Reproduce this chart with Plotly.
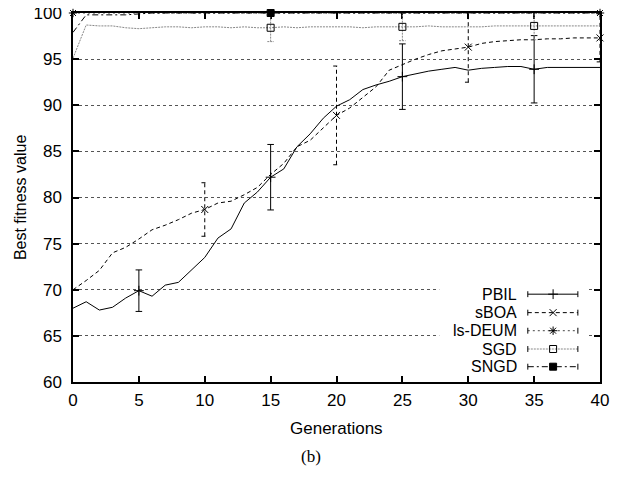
import plotly.graph_objects as go

# generations 0..40
gens = list(range(41))

pbil = [68.0, 68.7, 67.8, 68.1, 69.1, 69.9, 69.3, 70.5, 70.8, 72.2,
        73.5, 75.6, 76.6, 79.4, 80.6, 82.2, 83.1, 85.5, 86.9, 88.6,
        89.9, 90.6, 91.7, 92.2, 92.6, 93.1, 93.4, 93.7, 93.9, 94.1,
        93.8, 94.0, 94.1, 94.2, 94.2, 93.9, 94.1, 94.1, 94.1, 94.1, 94.1]
sboa = [70.0, 71.0, 72.1, 74.0, 74.6, 75.5, 76.5, 77.0, 77.6, 78.3,
        78.7, 79.4, 79.6, 80.3, 81.1, 82.5, 83.7, 85.5, 86.2, 87.6,
        88.9, 89.7, 90.8, 92.0, 93.8, 94.4, 95.0, 95.5, 95.9, 96.1,
        96.3, 96.7, 96.9, 97.0, 97.1, 97.1, 97.2, 97.2, 97.3, 97.3, 97.3]
lsdeum = [100.0, 100.0, 100.0, 100.0, 100.0, 100.0, 100.0, 100.0, 100.0, 100.0,
          100.0, 100.0, 100.0, 100.0, 100.0, 100.0, 100.0, 100.0, 100.0, 100.0,
          100.0, 100.0, 100.0, 100.0, 100.0, 100.0, 100.0, 100.0, 100.0, 100.0,
          100.0, 100.0, 100.0, 100.0, 100.0, 100.0, 100.0, 100.0, 100.0, 100.0, 100.0]
sgd = [95.1, 98.7, 98.6, 98.6, 98.4, 98.3, 98.4, 98.5, 98.5, 98.4,
       98.5, 98.5, 98.4, 98.5, 98.4, 98.4, 98.5, 98.4, 98.5, 98.5,
       98.5, 98.5, 98.4, 98.5, 98.5, 98.5, 98.5, 98.6, 98.5, 98.5,
       98.5, 98.5, 98.6, 98.6, 98.6, 98.6, 98.6, 98.6, 98.6, 98.6, 98.6]
sngd = [97.9, 99.8, 99.8, 99.8, 99.8, 99.9, 100.0, 100.0, 100.0, 100.0,
        100.0, 100.0, 100.0, 100.0, 100.0, 100.0, 100.0, 100.0, 100.0, 100.0,
        100.0, 100.0, 100.0, 100.0, 100.0, 100.0, 100.0, 100.0, 100.0, 100.0,
        100.0, 100.0, 100.0, 100.0, 100.0, 100.0, 100.0, 100.0, 100.0, 100.0, 100.0]

# points that carry a marker + error bar
pbil_pts, pbil_err = [5, 15, 25, 35], [2.25, 3.55, 3.55, 3.65]
sboa_pts, sboa_err = [10, 20, 30, 40], [2.9, 5.35, 3.8, 2.6]
lsdeum_pts, lsdeum_err = [0, 40], [0.0, 0.0]
sgd_pts, sgd_err = [15, 25, 35], [1.5, 1.5, 1.5]
sngd_pts, sngd_err = [15], [0.0]

names = ["PBIL", "sBOA", "ls-DEUM", "SGD", "SNGD"]

styles = {
    "PBIL": dict(color="black", dash="solid", symbol="cross-thin", size=7),
    "sBOA": dict(color="black", dash="4px,3px", symbol="x-thin", size=7),
    "ls-DEUM": dict(color="#444444", dash="2px,3px", symbol="asterisk", size=7),
    "SGD": dict(color="#888888", dash="2px,1px", symbol="square-open", size=7),
    "SNGD": dict(color="black", dash="6px,3px,2px,3px", symbol="square", size=7),
}

series = {
    "PBIL": (pbil, pbil_pts, pbil_err),
    "sBOA": (sboa, sboa_pts, sboa_err),
    "ls-DEUM": (lsdeum, lsdeum_pts, lsdeum_err),
    "SGD": (sgd, sgd_pts, sgd_err),
    "SNGD": (sngd, sngd_pts, sngd_err),
}


def bar_segments(vals, pts, errs, cap=0.25):
    xs, ys = [], []
    for p, e in zip(pts, errs):
        if e <= 0:
            continue
        v = vals[p]
        xs += [p, p, None, p - cap, p + cap, None, p - cap, p + cap, None]
        ys += [v - e, v + e, None, v - e, v - e, None, v + e, v + e, None]
    return xs, ys


fig = go.Figure()

for n in names:
    vals, pts, errs = series[n]
    st = styles[n]
    fig.add_trace(go.Scatter(x=gens, y=vals, mode="lines", showlegend=False,
                             line=dict(color=st["color"], width=1, dash=st["dash"])))
    bx, by = bar_segments(vals, pts, errs)
    if bx:
        fig.add_trace(go.Scatter(x=bx, y=by, mode="lines", showlegend=False,
                                 line=dict(color=st["color"], width=1, dash=st["dash"])))
    fig.add_trace(go.Scatter(x=pts, y=[vals[p] for p in pts], mode="markers",
                             showlegend=False, cliponaxis=False,
                             marker=dict(symbol=st["symbol"], size=st["size"], color="black",
                                         line=dict(color="black", width=1))))

# hand-made legend (text left, sample right like gnuplot)
leg_rows = [0.238, 0.188, 0.139, 0.0894, 0.0415]
lx0, lx1, lxc = 0.863, 0.958, 0.911
for n, ry in zip(names, leg_rows):
    st = styles[n]
    fig.add_trace(go.Scatter(x=[lx0, lx1], y=[ry, ry], xaxis="x2", yaxis="y2",
                             mode="lines", showlegend=False,
                             line=dict(color=st["color"], width=1, dash=st["dash"])))
    fig.add_trace(go.Scatter(x=[lx0, lx0, None, lx1, lx1], y=[ry - 0.008, ry + 0.008, None, ry - 0.008, ry + 0.008],
                             xaxis="x2", yaxis="y2", mode="lines", showlegend=False,
                             line=dict(color="black", width=1)))
    fig.add_trace(go.Scatter(x=[lxc], y=[ry], xaxis="x2", yaxis="y2", mode="markers",
                             showlegend=False,
                             marker=dict(symbol=st["symbol"], size=st["size"], color="black",
                                         line=dict(color="black", width=1))))
    fig.add_annotation(x=0.845, y=ry, xref="paper", yref="paper", text=n,
                       showarrow=False, xanchor="right", yanchor="middle",
                       borderpad=0, font=dict(size=16))

# blank the grid behind the legend
fig.add_shape(type="rect", xref="x", yref="y", x0=27.8, x1=39.1, y0=60, y1=71.6,
              fillcolor="white", line=dict(width=0), layer="between")

axis_common = dict(showline=True, linecolor="black", linewidth=1.5, mirror="ticks",
                   ticks="inside", ticklen=6, tickwidth=1.5, tickcolor="black",
                   zeroline=False, layer="below traces", automargin=False,
                   ticklabeloverflow="allow", tickfont=dict(size=17))

# page body adds an 8px offset, so the figure is 8px smaller than the window
fig.update_layout(
    width=611, height=470,
    margin=dict(l=65, r=19, t=5, b=96),
    paper_bgcolor="white", plot_bgcolor="white",
    font=dict(family="Liberation Sans, Arial, sans-serif", size=17, color="black"),
    xaxis=dict(range=[0, 40], dtick=5, showgrid=False, ticklabelstandoff=2, **axis_common),
    yaxis=dict(range=[60, 100], dtick=5, showgrid=True, gridcolor="#555555",
               griddash="dot", gridwidth=1, ticklabelstandoff=6, **axis_common),
    xaxis2=dict(range=[0, 1], overlaying="x", visible=False, fixedrange=True),
    yaxis2=dict(range=[0, 1], overlaying="y", visible=False, fixedrange=True),
    showlegend=False,
)

fig.add_annotation(x=-0.1006, y=0.501, xref="paper", yref="paper", text="Best fitness value",
                   textangle=-90, showarrow=False, xanchor="center", yanchor="middle",
                   font=dict(size=16))
fig.add_annotation(x=0.5, y=-0.1247, xref="paper", yref="paper", text="Generations",
                   showarrow=False, xanchor="center", yanchor="middle", font=dict(size=17))
fig.add_annotation(x=0.451, y=-0.203, xref="paper", yref="paper", text="(b)",
                   showarrow=False, xanchor="center", yanchor="middle",
                   font=dict(size=17, family="Liberation Serif, Times New Roman, serif"))

fig.write_html("out.html")
